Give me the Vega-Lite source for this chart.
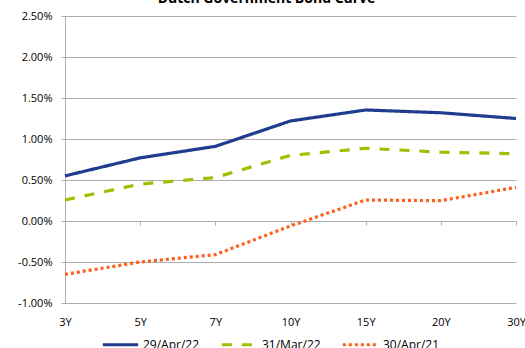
{
  "$schema": "https://vega.github.io/schema/vega-lite/v6.json",
  "autosize": {"type": "none"},
  "width": 451,
  "height": 287,
  "padding": {"left": 65, "top": 16, "right": 9, "bottom": 45},
  "background": "white",
  "title": {
    "text": "Dutch Government Bond Curve",
    "font": "Open Sans",
    "fontSize": 14,
    "fontWeight": "bold",
    "color": "black",
    "anchor": "middle",
    "frame": "group",
    "baseline": "alphabetic",
    "offset": 0,
    "dy": 7,
    "dx": -24
  },
  "data": {
    "values": [
      {"tenor": "3Y", "series": "29/Apr/22", "yield": 0.0055},
      {"tenor": "5Y", "series": "29/Apr/22", "yield": 0.0077},
      {"tenor": "7Y", "series": "29/Apr/22", "yield": 0.0091},
      {"tenor": "10Y", "series": "29/Apr/22", "yield": 0.0122},
      {"tenor": "15Y", "series": "29/Apr/22", "yield": 0.01354},
      {"tenor": "20Y", "series": "29/Apr/22", "yield": 0.0132},
      {"tenor": "30Y", "series": "29/Apr/22", "yield": 0.0125},
      {"tenor": "3Y", "series": "31/Mar/22", "yield": 0.00256},
      {"tenor": "5Y", "series": "31/Mar/22", "yield": 0.0045},
      {"tenor": "7Y", "series": "31/Mar/22", "yield": 0.0053},
      {"tenor": "10Y", "series": "31/Mar/22", "yield": 0.0080},
      {"tenor": "15Y", "series": "31/Mar/22", "yield": 0.00887},
      {"tenor": "20Y", "series": "31/Mar/22", "yield": 0.0084},
      {"tenor": "30Y", "series": "31/Mar/22", "yield": 0.0082},
      {"tenor": "3Y", "series": "30/Apr/21", "yield": -0.0065},
      {"tenor": "5Y", "series": "30/Apr/21", "yield": -0.0050},
      {"tenor": "7Y", "series": "30/Apr/21", "yield": -0.0041},
      {"tenor": "10Y", "series": "30/Apr/21", "yield": -0.0006},
      {"tenor": "15Y", "series": "30/Apr/21", "yield": 0.00256},
      {"tenor": "20Y", "series": "30/Apr/21", "yield": 0.00248},
      {"tenor": "30Y", "series": "30/Apr/21", "yield": 0.0041}
    ]
  },
  "mark": {"type": "line", "interpolate": "linear", "strokeWidth": 3.2, "strokeJoin": "round"},
  "encoding": {
    "x": {
      "field": "tenor",
      "type": "ordinal",
      "sort": ["3Y", "5Y", "7Y", "10Y", "15Y", "20Y", "30Y"],
      "scale": {"type": "point", "padding": 0},
      "axis": {
        "title": null,
        "offset": -82,
        "grid": false,
        "domainColor": "#ADADAD",
        "tickColor": "#ADADAD",
        "tickSize": 4,
        "labelAngle": 0,
        "labelPadding": 91,
        "labelFont": "Open Sans",
        "labelFontSize": 11,
        "labelColor": "black"
      }
    },
    "y": {
      "field": "yield",
      "type": "quantitative",
      "scale": {"domain": [-0.01, 0.025], "nice": false},
      "axis": {
        "title": null,
        "values": [-0.01, -0.005, 0, 0.005, 0.01, 0.015, 0.02, 0.025],
        "labelExpr": "(datum.value < 0 ? '-' : '') + format(abs(datum.value), '.2%')",
        "grid": true,
        "gridColor": "#ADADAD",
        "domainColor": "#ADADAD",
        "tickColor": "#ADADAD",
        "tickSize": 4,
        "labelPadding": 9,
        "labelFont": "Open Sans",
        "labelFontSize": 11,
        "labelColor": "black"
      }
    },
    "color": {
      "field": "series",
      "type": "nominal",
      "sort": ["29/Apr/22", "31/Mar/22", "30/Apr/21"],
      "scale": {
        "domain": ["29/Apr/22", "31/Mar/22", "30/Apr/21"],
        "range": ["#1F3C8E", "#99C200", "#FF5F1A"]
      },
      "legend": {
        "title": null,
        "orient": "none",
        "direction": "horizontal",
        "legendX": 36,
        "legendY": 309,
        "symbolType": "stroke",
        "symbolSize": 1250,
        "symbolStrokeWidth": 3,
        "columnPadding": 15,
        "labelOffset": 3,
        "labelFont": "Open Sans",
        "labelFontSize": 12,
        "labelColor": "black"
      }
    },
    "strokeDash": {
      "field": "series",
      "type": "nominal",
      "sort": ["29/Apr/22", "31/Mar/22", "30/Apr/21"],
      "scale": {
        "domain": ["29/Apr/22", "31/Mar/22", "30/Apr/21"],
        "range": [[1, 0], [10, 10], [3, 3]]
      },
      "legend": null
    }
  },
  "config": {"view": {"stroke": null}}
}
